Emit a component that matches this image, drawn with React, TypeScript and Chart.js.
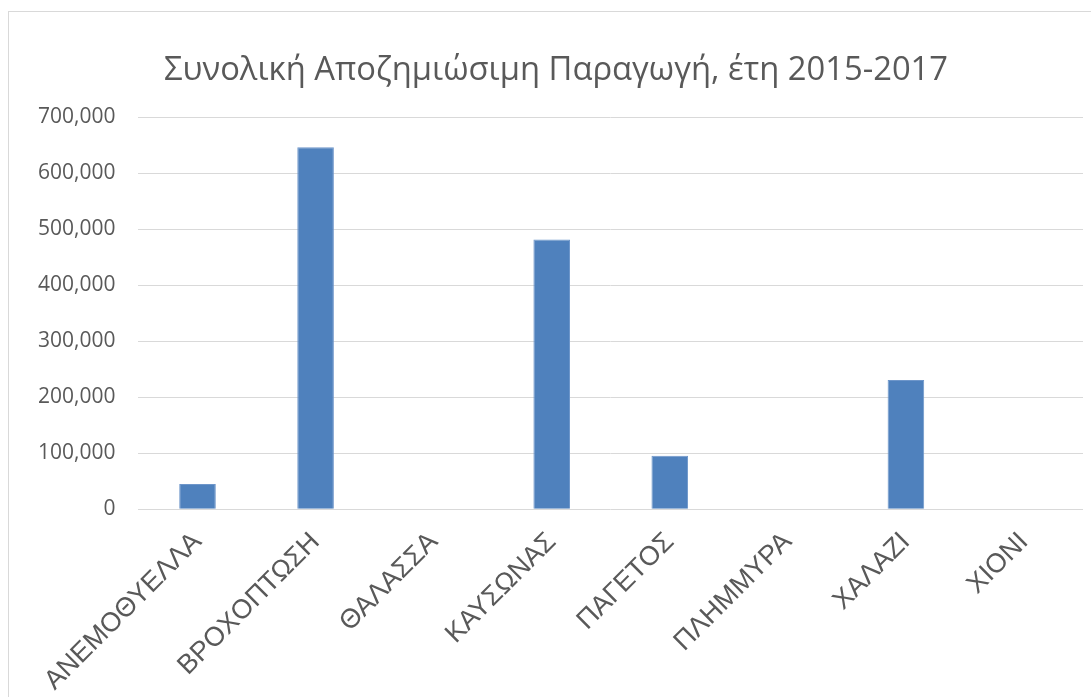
import React, { useEffect, useRef } from 'react';
import { Chart, registerables } from 'chart.js';

Chart.register(...registerables);

const categories = ['ΑΝΕΜΟΘΥΕΛΛΑ', 'ΒΡΟΧΟΠΤΩΣΗ', 'ΘΑΛΑΣΣΑ', 'ΚΑΥΣΩΝΑΣ', 'ΠΑΓΕΤΟΣ', 'ΠΛΗΜΜΥΡΑ', 'ΧΑΛΑΖΙ', 'ΧΙΟΝΙ'];
const values = [44700, 645900, 0, 481400, 95300, 0, 230600, 0];
const yMin = 0;
const yMax = 700000;
const yStep = 100000;
const titleText = 'Συνολική Αποζημιώσιμη Παραγωγή, έτη 2015-2017';

const centeredTitle = {
  id: 'centeredTitle',
  afterDraw(chart: any) {
    const ctx = chart.ctx;
    ctx.save();
    ctx.font = "32.75px 'Open Sans'";
    ctx.fillStyle = '#595959';
    ctx.textAlign = 'center';
    ctx.textBaseline = 'alphabetic';
    ctx.fillText(titleText, chart.width / 2, 68);
    ctx.restore();
  },
};

export default function App() {
  const ref = useRef<HTMLCanvasElement | null>(null);

  useEffect(() => {
    if (!ref.current) return;
    const chart = new Chart(ref.current, {
      type: 'bar',
      data: {
        labels: categories,
        datasets: [
          {
            data: values,
            backgroundColor: '#4F81BD',
            borderColor: '#6E96CA',
            borderWidth: 1,
            barPercentage: 0.31,
            categoryPercentage: 1,
          },
        ],
      },
      options: {
        animation: false,
        responsive: false,
        maintainAspectRatio: false,
        layout: { padding: { left: 6, right: 20, top: 105, bottom: 6 } },
        plugins: {
          legend: { display: false },
          tooltip: { enabled: false },
          title: { display: false },
        },
        scales: {
          x: {
            grid: { display: false },
            border: { display: false },
            ticks: {
              autoSkip: false,
              maxRotation: 45,
              minRotation: 45,
              color: '#595959',
              font: { family: 'Liberation Sans', size: 27 },
              padding: 9,
            },
          },
          y: {
            min: yMin,
            max: yMax,
            border: { display: false },
            grid: { color: '#D9D9D9', lineWidth: 1, drawTicks: false },
            ticks: {
              stepSize: yStep,
              color: '#595959',
              font: { family: 'Open Sans', size: 21 },
              padding: 23,
              callback: (v: any) => Number(v).toLocaleString('en-US'),
            },
          },
        },
      },
      plugins: [centeredTitle],
    });
    return () => chart.destroy();
  }, []);

  return (
    <div style={{ position: 'fixed', left: 0, top: 0, width: '100vw', height: '100vh', overflow: 'hidden', background: '#fff' }}>
      <div
        style={{
          position: 'absolute',
          left: 8,
          top: 11,
          width: 1094,
          height: 700,
          border: '1px solid #D9D9D9',
          background: '#fff',
        }}
      >
        <canvas ref={ref} width={1094} height={700} style={{ display: 'block', width: 1094, height: 700 }} />
      </div>
    </div>
  );
}
